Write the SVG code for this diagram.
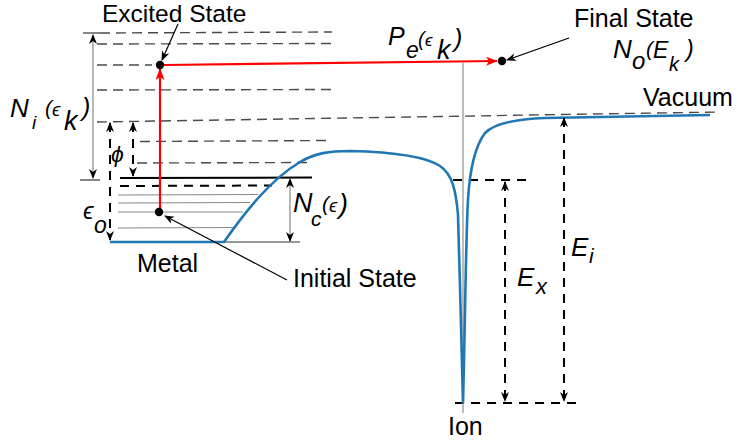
<svg xmlns="http://www.w3.org/2000/svg" width="739" height="444" viewBox="0 0 739 444">
<style>
text{font-family:"Liberation Sans","DejaVu Sans",Arial,sans-serif;fill:#000}
.lbl{font-size:25px}
.m{font-style:italic}
.gd{stroke:#4a4a4a;stroke-width:1.4;stroke-dasharray:10 6;fill:none}
.bd{stroke:#000;stroke-width:2;stroke-dasharray:9 7;fill:none}
.thin{stroke:#888;stroke-width:1;fill:none}
.ptr{stroke:#000;stroke-width:1.2;fill:none}
.red{stroke:#ff0000;stroke-width:2.2;fill:none}
.blue{stroke:#1f77b4;stroke-width:2.6;fill:none}
</style>
<defs>
<marker id="ah" viewBox="0 0 10 8" refX="9" refY="4" markerWidth="10" markerHeight="8" markerUnits="userSpaceOnUse" orient="auto-start-reverse">
<path d="M0,0 L10,4 L0,8 L3,4 z" fill="#000"/>
</marker>
<marker id="ahr" viewBox="0 0 12 9" refX="11" refY="4.5" markerWidth="12" markerHeight="9" markerUnits="userSpaceOnUse" orient="auto">
<path d="M0,0 L12,4.5 L0,9 L3,4.5 z" fill="#ff0000"/>
</marker>
</defs>

<g id="levels">
<line x1="83" y1="33" x2="100" y2="33" stroke="#444" stroke-width="1.3"/>
<line class="gd" x1="100" y1="33" x2="332" y2="32"/>
<line class="gd" x1="97" y1="44" x2="333" y2="43.5"/>
<line class="gd" x1="97" y1="65" x2="152" y2="65"/>
<line class="gd" x1="97" y1="90" x2="333" y2="89.5"/>
<line class="gd" x1="97" y1="122" x2="720" y2="112"/>
<line class="gd" x1="140" y1="141.5" x2="330" y2="140.5"/>
<line class="gd" x1="137" y1="163" x2="307" y2="162.5"/>
<line x1="120" y1="178" x2="312" y2="177.5" stroke="#000" stroke-width="2"/>
<line x1="80" y1="180" x2="100" y2="180" stroke="#444" stroke-width="1.3"/>
<line class="bd" x1="120" y1="186" x2="272" y2="185.5"/>
<line class="thin" x1="118" y1="195" x2="258" y2="194.5"/>
<line class="thin" x1="118" y1="203" x2="250" y2="202.5"/>
<line class="thin" x1="118" y1="212" x2="243" y2="212"/>
<line class="thin" x1="118" y1="228" x2="233" y2="227.5"/>
<line x1="224" y1="242" x2="300" y2="242" stroke="#333" stroke-width="1.2"/>
<line class="bd" x1="453" y1="180" x2="532" y2="180"/>
<line class="bd" x1="455" y1="403" x2="580" y2="403"/>
<line x1="463" y1="63" x2="463" y2="413" stroke="#999" stroke-width="1.3"/>
</g>

<g id="potential">
<path class="blue" d="M110,242 L224,242 C245,212 270,180 300,162 C315,153 330,151 350,151 C390,152 425,156 440,166 C452,174 456,190 458,215 C460,280 462,370 463,403 C465,330 466,230 468,200 C470,165 476,145 485,133 C495,123 515,119 545,118 L710,115"/>
</g>

<g id="connectors">
<line x1="93" y1="35" x2="93" y2="178" stroke="#888" stroke-width="1.2" marker-start="url(#ah)" marker-end="url(#ah)"/>
<line class="bd" x1="110" y1="123" x2="110" y2="240" marker-start="url(#ah)" marker-end="url(#ah)"/>
<line class="bd" x1="133" y1="123" x2="133" y2="176" marker-start="url(#ah)" marker-end="url(#ah)"/>
<line x1="290" y1="179" x2="290" y2="241" stroke="#888" stroke-width="1.2" marker-start="url(#ah)" marker-end="url(#ah)"/>
<line class="bd" x1="505" y1="182" x2="505" y2="401" marker-start="url(#ah)" marker-end="url(#ah)"/>
<line class="bd" x1="564" y1="118" x2="564" y2="401" marker-start="url(#ah)" marker-end="url(#ah)"/>
<line class="red" x1="160" y1="212" x2="160" y2="69" marker-end="url(#ahr)"/>
<line class="red" x1="164" y1="65" x2="497" y2="61" marker-end="url(#ahr)"/>
<line class="ptr" x1="178" y1="24" x2="162" y2="60" marker-end="url(#ah)"/>
<line class="ptr" x1="287" y1="280" x2="165" y2="216" marker-end="url(#ah)"/>
<line class="ptr" x1="569" y1="38" x2="507" y2="60" marker-end="url(#ah)"/>
</g>

<g id="excited-state">
<circle cx="160" cy="65" r="4.2" fill="#000"/>
<text x="102" y="22" font-size="24.5">Excited State</text>
</g>
<g id="initial-state">
<circle cx="159" cy="212" r="4.2" fill="#000"/>
<text class="lbl" x="293" y="287">Initial State</text>
</g>
<g id="final-state">
<circle cx="502" cy="61" r="4.2" fill="#000"/>
<text class="lbl" x="574" y="27">Final State</text>
<text class="m" x="613" y="58" font-size="26">N<tspan x="632" y="69" font-size="24">o</tspan><tspan x="646" y="56" font-size="21">(</tspan><tspan x="653" y="58" font-size="23">E</tspan><tspan x="669" y="71" font-size="20">k</tspan><tspan x="686" y="57" font-size="23">)</tspan></text>
</g>
<g id="metal">
<text class="lbl" x="137" y="272">Metal</text>
</g>
<g id="vacuum">
<text class="lbl" x="643" y="106">Vacuum</text>
</g>
<g id="ion">
<text class="lbl" x="448" y="435">Ion</text>
</g>

<g id="labels">
<text class="m" x="10" y="117" font-size="26">N<tspan x="32" y="129" font-size="19">i</tspan><tspan x="45" y="115" font-size="21">(</tspan><tspan x="52" y="116" font-size="19">ϵ</tspan><tspan x="64" y="130" font-size="27">k</tspan><tspan x="82" y="116" font-size="25">)</tspan></text>

<text class="m" x="111" y="162" font-size="23">ϕ</text>

<text class="m" x="83" y="219" font-size="24">ϵ<tspan x="94" y="233" font-size="23">o</tspan></text>

<text class="m" x="293" y="212" font-size="27">N<tspan x="311" y="226" font-size="21">c</tspan><tspan x="322" y="211" font-size="21">(</tspan><tspan x="329" y="212" font-size="19">ϵ</tspan><tspan x="339" y="213" font-size="27">)</tspan></text>

<text class="m" x="388" y="45" font-size="25">P<tspan x="406" y="58" font-size="23">e</tspan><tspan x="418" y="46" font-size="20">(</tspan><tspan x="425" y="46" font-size="17">ϵ</tspan><tspan x="437" y="59" font-size="27">k</tspan><tspan x="454" y="47" font-size="25">)</tspan></text>

<text class="m" x="517" y="286" font-size="26">E<tspan x="536" y="294" font-size="22">x</tspan></text>
<text class="m" x="571" y="256" font-size="26">E<tspan x="589" y="263" font-size="21">i</tspan></text>
</g>
</svg>
